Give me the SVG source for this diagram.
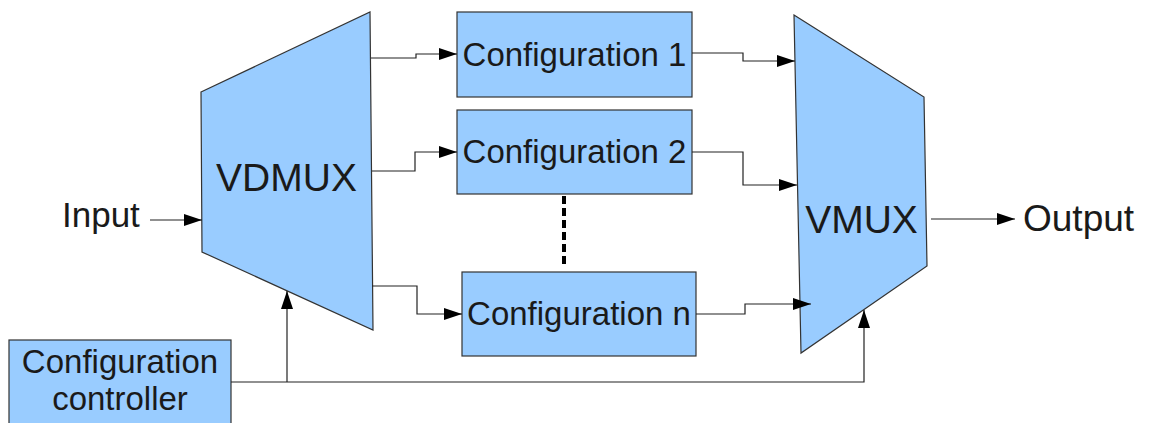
<svg xmlns="http://www.w3.org/2000/svg" width="1151" height="423" viewBox="0 0 1151 423">
  <style>
    .shape { fill: #99ccff; stroke: #333333; stroke-width: 1.2; }
    .label { font-family: "Liberation Sans", Arial, sans-serif; fill: #1a1a1a; }
    .cfg { font-size: 33px; text-anchor: middle; }
    .mux { font-size: 39px; text-anchor: middle; }
    .io { font-size: 35px; }
    .wire { fill: none; stroke: #222222; stroke-width: 1.2; }
    .dots { fill: none; stroke: #000000; stroke-width: 4; stroke-dasharray: 8 4; }
  </style>
  <defs>
    <marker id="arrow" markerUnits="userSpaceOnUse" markerWidth="18" markerHeight="12" refX="18" refY="6" orient="auto">
      <path d="M0,0 L18,6 L0,12 Z" fill="#000000"/>
    </marker>
  </defs>

  <rect width="1151" height="423" fill="#ffffff"/>

  <!-- demultiplexer -->
  <g id="vdmux">
    <polygon class="shape" points="201,92 370,12 373,330 202,252"/>
    <text class="label mux" x="286.5" y="191">VDMUX</text>
  </g>

  <!-- multiplexer -->
  <g id="vmux">
    <polygon class="shape" points="794,15 924,97 927,266 801,353"/>
    <text class="label mux" x="861.5" y="233">VMUX</text>
  </g>

  <g id="config1">
    <rect class="shape" x="457" y="12" width="235" height="85"/>
    <text class="label cfg" x="574.5" y="66">Configuration 1</text>
  </g>

  <g id="config2">
    <rect class="shape" x="457" y="110" width="235" height="84"/>
    <text class="label cfg" x="574.5" y="163">Configuration 2</text>
  </g>

  <g id="confign">
    <rect class="shape" x="462" y="272" width="234" height="84"/>
    <text class="label cfg" x="579" y="325">Configuration n</text>
  </g>

  <g id="controller">
    <rect class="shape" x="9" y="340" width="222" height="95"/>
    <text class="label cfg" x="120" y="373">Configuration</text>
    <text class="label cfg" x="120" y="410">controller</text>
  </g>

  <g id="input">
    <text class="label io" x="62" y="227">Input</text>
  </g>

  <g id="output">
    <text class="label io" x="1023" y="231" style="font-size:37px">Output</text>
  </g>

  <!-- connectors -->
  <g id="connectors">
    <path class="wire" d="M150,220 L202,220" marker-end="url(#arrow)"/>
    <path class="wire" d="M371,58 L416,58 L416,54 L457,54" marker-end="url(#arrow)"/>
    <path class="wire" d="M372,171 L415,171 L415,152 L457,152" marker-end="url(#arrow)"/>
    <path class="wire" d="M372,286 L417,286 L417,314 L462,314" marker-end="url(#arrow)"/>
    <path class="wire" d="M692,53 L743,53 L743,61 L795,61" marker-end="url(#arrow)"/>
    <path class="wire" d="M692,152 L743,152 L743,185 L797,185" marker-end="url(#arrow)"/>
    <path class="wire" d="M696,314 L745,314 L745,304 L811,304" marker-end="url(#arrow)"/>
    <path class="wire" d="M931,219 L1015,219" marker-end="url(#arrow)"/>
    <path class="wire" d="M231,382 L864,382 L864,310" marker-end="url(#arrow)"/>
    <path class="wire" d="M287,382 L287,291" marker-end="url(#arrow)"/>
    <path class="dots" d="M564,196 L564,267"/>
  </g>
</svg>
